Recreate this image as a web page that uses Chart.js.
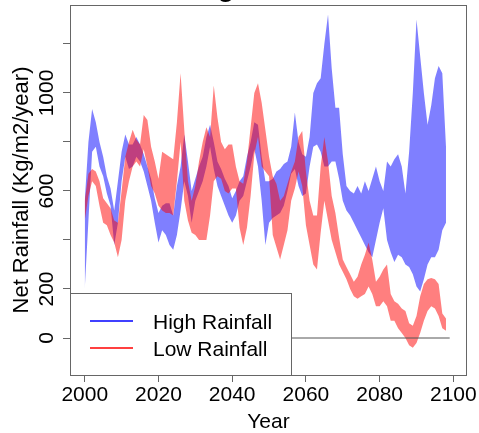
<!DOCTYPE html>
<html>
<head>
<meta charset="utf-8">
<script src="https://cdn.jsdelivr.net/npm/chart.js@4.4.1/dist/chart.umd.min.js"></script>
<style>
  html, body { margin: 0; padding: 0; background: #fff; }
  #wrap { width: 479px; height: 433px; }
</style>
</head>
<body>
<div id="wrap"><canvas id="rainChart" width="479" height="433"></canvas></div>
<script>
// yearly values
const years = [
  2000, 2001, 2002, 2003, 2004, 2005, 2006, 2007, 2008, 2009,
  2010, 2011, 2012, 2013, 2014, 2015, 2016, 2017, 2018, 2019,
  2020, 2021, 2022, 2023, 2024, 2025, 2026, 2027, 2028, 2029,
  2030, 2031, 2032, 2033, 2034, 2035, 2036, 2037, 2038, 2039,
  2040, 2041, 2042, 2043, 2044, 2045, 2046, 2047, 2048, 2049,
  2050, 2051, 2052, 2053, 2054, 2055, 2056, 2057, 2058, 2059,
  2060, 2061, 2062, 2063, 2064, 2065, 2066, 2067, 2068, 2069,
  2070, 2071, 2072, 2073, 2074, 2075, 2076, 2077, 2078, 2079,
  2080, 2081, 2082, 2083, 2084, 2085, 2086, 2087, 2088, 2089,
  2090, 2091, 2092, 2093, 2094, 2095, 2096, 2097, 2098,
];

const highUpper = [
  560, 800, 935, 880, 800, 740, 660, 610, 520, 640,
  760, 830, 790, 790, 820, 790, 750, 700, 650, 570,
  510, 540, 550, 550, 500, 620, 700, 830, 720, 600,
  650, 700, 740, 820, 870, 800, 720, 690, 650, 620,
  570, 600, 640, 660, 740, 800, 880, 870, 740, 640,
  640, 650, 680, 690, 710, 720, 780, 920, 800, 750,
  740, 820, 1000, 1040, 1060, 1200, 1320, 1100, 940, 940,
  750, 620, 600, 590, 620, 590, 640, 600, 650, 700,
  640, 600, 720, 700, 730, 750, 700, 590, 760, 1000,
  1300, 1150, 1000, 870, 950, 1060, 1110, 1080, 780,
];
const highLower = [
  200, 480, 760, 780, 700, 660, 590, 540, 380, 470,
  640, 740, 690, 700, 740, 720, 680, 620, 560, 470,
  390, 440, 420, 380, 360, 420, 520, 640, 580, 470,
  560, 600, 640, 700, 780, 690, 620, 580, 540, 500,
  470, 500, 560, 580, 640, 700, 770, 700, 560, 380,
  470, 490, 500, 510, 540, 600, 670, 690, 620, 580,
  590, 700, 780, 790, 760, 700, 700, 720, 720, 650,
  560, 520, 500, 470, 440, 410, 380, 350, 330, 400,
  470, 530, 400, 350, 310, 340, 330, 300, 290, 260,
  210, 190, 240, 300, 330, 330, 360, 440, 470,
];

const lowUpper = [
  560, 670, 690, 680, 640, 570, 550, 530, 480, 470,
  600, 740, 800, 850, 810, 790, 910, 890, 780, 720,
  650, 760, 750, 740, 730, 880, 1080, 850, 640, 560,
  620, 720, 800, 860, 820, 1030, 900, 800, 770, 790,
  790, 700, 640, 630, 720, 860, 1000, 1040, 960, 850,
  740, 660, 630, 560, 580, 630, 680, 720, 820, 845,
  680, 560, 500, 500, 700, 820, 720, 580, 510, 410,
  320, 290, 260, 230, 250, 300, 340, 390, 320, 230,
  250, 280, 300, 180, 150, 140, 120, 110, 60, 50,
  90, 170, 220, 240, 245, 240, 220, 100, 80,
];
const lowLower = [
  480, 580, 640, 620, 540, 470, 460, 420, 390, 330,
  400, 560, 640, 700, 720, 700, 770, 700, 620, 590,
  540, 520, 510, 510, 500, 640, 800, 560, 480, 430,
  420, 400, 400, 400, 500, 640, 660, 650, 600, 590,
  610, 610, 450, 380, 450, 580, 750, 820, 700, 680,
  660, 420, 370, 320, 380, 440, 560, 610, 680, 620,
  460, 380, 300, 280, 430, 560, 480, 400, 350, 300,
  270, 240, 200, 170, 160, 170, 180, 210, 180, 130,
  130, 150, 130, 70, 70, 40, 20, 0, -30, -40,
  -20, 20, 70, 110, 130, 120, 90, 40, 30,
];

const zeroLineYears = [2000, 2099];
const xTickValues = [2000, 2020, 2040, 2060, 2080, 2100];
const yTickValues = [0, 200, 400, 600, 800, 1000, 1200];
const yTickLabels = [0, 200, 600, 1000]; // R dropped the overlapping ones
const legendLabels = ['High Rainfall', 'Low Rainfall'];

const FONT = '"Liberation Sans", Arial, sans-serif';

function toPoints(vals) {
  return vals.map((v, i) => ({ x: years[i], y: v }));
}

const bandStyle = {
  borderColor: 'rgba(0,0,0,0)',
  borderWidth: 0,
  pointRadius: 0,
  tension: 0,
};

/* R style frame, rotated labels, legend box */
const rFramePlugin = {
  id: 'rFrame',
  afterDraw(chart) {
    const { ctx, chartArea: a, scales } = chart;
    const y = scales.y;

    ctx.save();
    ctx.fillStyle = '#000';

    // box round the plot
    ctx.strokeStyle = '#666';
    ctx.lineWidth = 1;
    ctx.strokeRect(a.left + 0.5, a.top + 0.5, a.right - a.left - 1, a.bottom - a.top);

    // y tick labels, parallel to the axis
    ctx.font = `21px ${FONT}`;
    ctx.textAlign = 'center';
    ctx.textBaseline = 'alphabetic';
    yTickLabels.forEach((v) => {
      ctx.save();
      ctx.translate(53, y.getPixelForValue(v));
      ctx.rotate(-Math.PI / 2);
      ctx.fillText(String(v), 0, 0);
      ctx.restore();
    });

    // axis titles
    ctx.save();
    ctx.font = `22px ${FONT}`;
    ctx.translate(28, (a.top + a.bottom) / 2);
    ctx.rotate(-Math.PI / 2);
    ctx.fillText('Net Rainfall (Kg/m2/year)', 0, 0);
    ctx.restore();

    ctx.font = `21px ${FONT}`;
    ctx.fillText('Year', (a.left + a.right) / 2, 428);

    // main title, mostly above the canvas
    ctx.font = `bold 28px ${FONT}`;
    ctx.fillText('g', 226, -4.5);

    // legend, bottom left
    const lx = a.left, ly = 293, lw = 221, lh = a.bottom - 293;
    ctx.fillStyle = '#fff';
    ctx.fillRect(lx, ly, lw, lh);
    ctx.strokeStyle = '#666';
    ctx.strokeRect(lx + 0.5, ly + 0.5, lw, lh);

    const rows = [
      { text: legendLabels[0], color: '#0000ff', y: 321 },
      { text: legendLabels[1], color: '#ff0000', y: 348 },
    ];
    ctx.textAlign = 'left';
    ctx.font = `21px ${FONT}`;
    rows.forEach((r) => {
      ctx.strokeStyle = r.color;
      ctx.lineWidth = 1.5;
      ctx.beginPath();
      ctx.moveTo(lx + 20, r.y);
      ctx.lineTo(lx + 63, r.y);
      ctx.stroke();
      ctx.fillStyle = '#000';
      ctx.fillText(r.text, lx + 83, r.y + 7.5);
    });

    ctx.restore();
  },
};

new Chart(document.getElementById('rainChart'), {
  type: 'line',
  data: {
    datasets: [
      { ...bandStyle, label: 'High upper', data: toPoints(highUpper), fill: '+1', backgroundColor: 'rgba(0,0,255,0.5)', order: 3 },
      { ...bandStyle, label: 'High lower', data: toPoints(highLower), fill: false, order: 3 },
      { ...bandStyle, label: 'Low upper', data: toPoints(lowUpper), fill: '+1', backgroundColor: 'rgba(255,0,0,0.5)', order: 2 },
      { ...bandStyle, label: 'Low lower', data: toPoints(lowLower), fill: false, order: 2 },
      {
        label: 'zero',
        data: zeroLineYears.map((x) => ({ x, y: 0 })),
        borderColor: '#555',
        borderWidth: 1,
        pointRadius: 0,
        fill: false,
        order: 1,
      },
    ],
  },
  options: {
    responsive: false,
    animation: false,
    devicePixelRatio: 1,
    layout: { padding: { left: 0, right: 12, top: 5, bottom: 0 } },
    plugins: {
      legend: { display: false },
      tooltip: { enabled: false },
    },
    scales: {
      x: {
        type: 'linear',
        min: 1996,
        max: 2103.7,
        border: { display: false },
        grid: { drawOnChartArea: false, drawTicks: true, tickLength: 7, color: '#666' },
        ticks: {
          color: '#000',
          font: { family: FONT, size: 21 },
          padding: 1,
          maxRotation: 0,
          autoSkip: false,
          callback: (v) => String(v),
        },
        afterBuildTicks: (s) => { s.ticks = xTickValues.map((v) => ({ value: v })); },
        afterFit: (s) => { s.height = 58; },
      },
      y: {
        type: 'linear',
        min: -151,
        max: 1359,
        border: { display: false },
        grid: { drawOnChartArea: false, drawTicks: true, tickLength: 7, color: '#666' },
        ticks: { display: false },
        afterBuildTicks: (s) => { s.ticks = yTickValues.map((v) => ({ value: v })); },
        afterFit: (s) => { s.width = 70; },
      },
    },
  },
  plugins: [rFramePlugin],
});
</script>
</body>
</html>
